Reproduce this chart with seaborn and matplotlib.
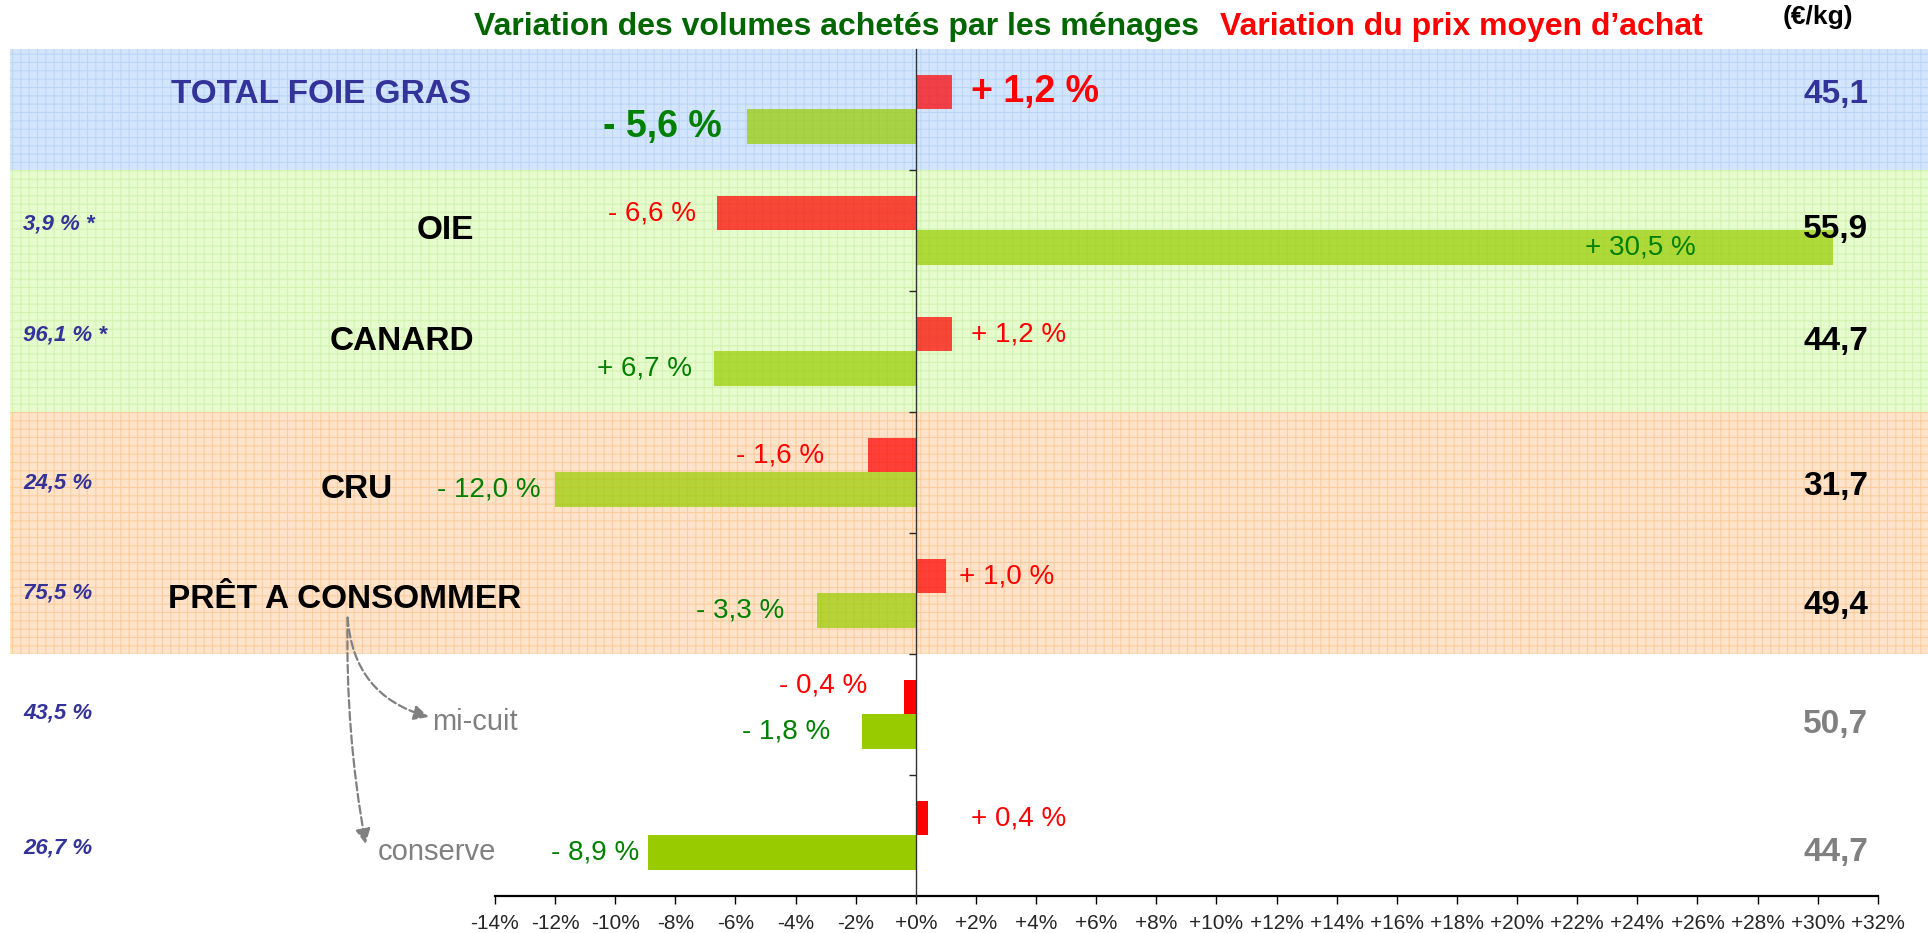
import pandas as pd
import seaborn as sns
import matplotlib.pyplot as plt
from matplotlib.patches import Rectangle
from matplotlib.transforms import blended_transform_factory

# data
categories = ['TOTAL FOIE GRAS', 'OIE', 'CANARD', 'CRU', 'PRÊT A CONSOMMER', 'mi-cuit', 'conserve']
prix_var = [1.2, -6.6, 1.2, -1.6, 1.0, -0.4, 0.4]            # variation du prix moyen (%)
volume_var = [-5.6, 30.5, -6.7, -12.0, -3.3, -1.8, -8.9]      # variation des volumes (bar as drawn)
volume_labels = ['- 5,6 %', '+ 30,5 %', '+ 6,7 %', '- 12,0 %', '- 3,3 %', '- 1,8 %', '- 8,9 %']
prix_moyen = ['45,1', '55,9', '44,7', '31,7', '49,4', '50,7', '44,7']
parts = ['', '3,9 % *', '96,1 % *', '24,5 %', '75,5 %', '43,5 %', '26,7 %']
x_ticks = list(range(-14, 33, 2))

# layout (label anchors in data units)
name_x = [-19.8, -14.7, -14.7, -18.6, -19.0, -16.1, -17.9]
name_ha = ['center', 'right', 'right', 'center', 'center', 'left', 'left']
name_y = [-0.12, 1.0, 1.92, 3.14, 4.05, 5.06, 6.14]
part_y = [0, 0.95, 1.86, 3.09, 4.0, 4.99, 6.10]
value_y = [-0.12, 0.99, 1.92, 3.12, 4.10, 5.08, 6.14]
prix_lab_x = [1.85, -7.32, 1.83, -3.06, 1.43, -1.63, 1.83]
vol_lab_x = [-6.45, 24.1, -7.45, -12.47, -4.39, -2.83, -9.21]
mi_cuit_dy = [0, 0, 0, 0, 0, -0.1, 0]

BLUE_TXT = '#333399'
RED = '#FF0000'
GREEN = '#99CC00'
DKGREEN = '#008000'
GREY = '#808080'


def fmt(v):
    s = '+' if v > 0 else '-'
    return f"{s} {abs(v):.1f} %".replace('.', ',')


sns.set_style('white')
plt.rcParams['font.family'] = ['Liberation Sans', 'DejaVu Sans']
plt.rcParams['hatch.linewidth'] = 0.8

fig = plt.figure(figsize=(19.28, 9.33), dpi=100)
ax = fig.add_axes([0.2567, 0.0397, 0.7173, 0.9078])
ax.patch.set_alpha(0)

df = pd.DataFrame({
    'categorie': categories * 2,
    'serie': ['prix'] * len(categories) + ['volume'] * len(categories),
    'variation': prix_var + volume_var,
})

sns.barplot(data=df, y='categorie', x='variation', hue='serie', order=categories,
            hue_order=['prix', 'volume'], palette={'prix': RED, 'volume': GREEN},
            orient='h', width=0.57, saturation=1, linewidth=0, legend=False,
            ax=ax, zorder=2)

# shaded bands behind the groups
trans = blended_transform_factory(ax.transAxes, ax.transData)
bands = [(-0.5, 1, '#d3e5fc', '#bcd6f6'),
         (0.5, 2, '#e7fcce', '#d2f3b2'),
         (2.5, 2, '#fee3cb', '#fbcd9e')]
for y0, h, fc, ec in bands:
    ax.add_patch(Rectangle((-0.351, y0), 1.4, h, transform=trans, facecolor=fc,
                           edgecolor=ec, hatch='++', lw=0, clip_on=False, zorder=0))

# bars inside bands are semi transparent
for cont in ax.containers:
    for i, bar in enumerate(cont):
        if i < 5:
            bar.set_alpha(0.72)

ax.set_xlim(-14, 32)
ax.set_ylim(6.5, -0.5)
ax.set_xlabel('')
ax.set_ylabel('')
ax.grid(False)

ax.set_xticks(x_ticks)
ax.set_xticklabels([f"{v:+d}%" for v in x_ticks],
                   family=['Liberation Sans Narrow', 'Liberation Sans'], fontsize=15)
ax.tick_params(axis='x', direction='out', length=6, width=1, pad=7, color='black', bottom=True)
ax.set_yticks([])
ax.set_yticks([i + 0.5 for i in range(6)], minor=True)
ax.tick_params(axis='y', which='minor', direction='out', length=5, width=1, left=True)

for s in ['top', 'right']:
    ax.spines[s].set_visible(False)
ax.spines['left'].set_position(('data', 0))
ax.spines['left'].set_color('#333333')
ax.spines['left'].set_linewidth(1)
ax.spines['left'].set_zorder(3)
ax.spines['bottom'].set_color('black')
ax.spines['bottom'].set_linewidth(1.6)

# category names
for i, name in enumerate(categories):
    if i == 0:
        col, wt, fs = BLUE_TXT, 'bold', 24
    elif i < 5:
        col, wt, fs = 'black', 'bold', 24
    else:
        col, wt, fs = GREY, 'normal', 21
    ax.text(name_x[i], name_y[i], name, ha=name_ha[i], va='center', color=col,
            fontweight=wt, fontsize=fs)

# share of each segment on the left
for i, p in enumerate(parts):
    if p:
        ax.text(-29.7, part_y[i], p, ha='left', va='center', color=BLUE_TXT,
                fontstyle='italic', fontweight='bold', fontsize=16)

# average price (euro/kg) on the right
for i, v in enumerate(prix_moyen):
    col = BLUE_TXT if i == 0 else ('black' if i < 5 else GREY)
    ax.text(30.6, value_y[i], v, ha='center', va='center', color=col,
            fontweight='bold', fontsize=24)

# bar value labels
off = 0.1425
for i in range(len(categories)):
    big = i == 0
    fs = 27 if big else 20
    wt = 'bold' if big else 'normal'
    ha = 'left' if prix_var[i] > 0 else 'right'
    ax.text(prix_lab_x[i], i - off + mi_cuit_dy[i], fmt(prix_var[i]), ha=ha, va='center',
            color=RED, fontsize=fs, fontweight=wt, zorder=4)
    ha = 'center' if volume_var[i] > 20 else ('left' if volume_var[i] > 0 else 'right')
    ax.text(vol_lab_x[i], i + off, volume_labels[i], ha=ha, va='center',
            color=DKGREEN, fontsize=fs, fontweight=wt, zorder=4)

# dashed arrows from PRET A CONSOMMER to its sub segments
arrow_kw = dict(arrowstyle='-|>', color=GREY, lw=1.6, ls='--', mutation_scale=22,
                shrinkA=0, shrinkB=0)
ax.annotate('', xy=(-16.2, 5.02), xytext=(-18.9, 4.2),
            arrowprops=dict(connectionstyle='arc3,rad=0.35', **arrow_kw), annotation_clip=False)
ax.annotate('', xy=(-18.3, 6.07), xytext=(-18.9, 4.2),
            arrowprops=dict(connectionstyle='arc3,rad=0.05', **arrow_kw), annotation_clip=False)

# headers
fig.text(836 / 1928, 1 - 27 / 933, 'Variation des volumes achetés par les ménages',
         ha='center', va='center', color='#006600', fontweight='bold', fontsize=23)
fig.text(1461 / 1928, 1 - 27 / 933, 'Variation du prix moyen d\u2019achat',
         ha='center', va='center', color=RED, fontweight='bold', fontsize=23)
fig.text(1818 / 1928, 1 - 17 / 933, '(€/kg)', ha='center', va='center',
         color='black', fontweight='bold', fontsize=19)

fig.savefig('out.png', dpi=100)
